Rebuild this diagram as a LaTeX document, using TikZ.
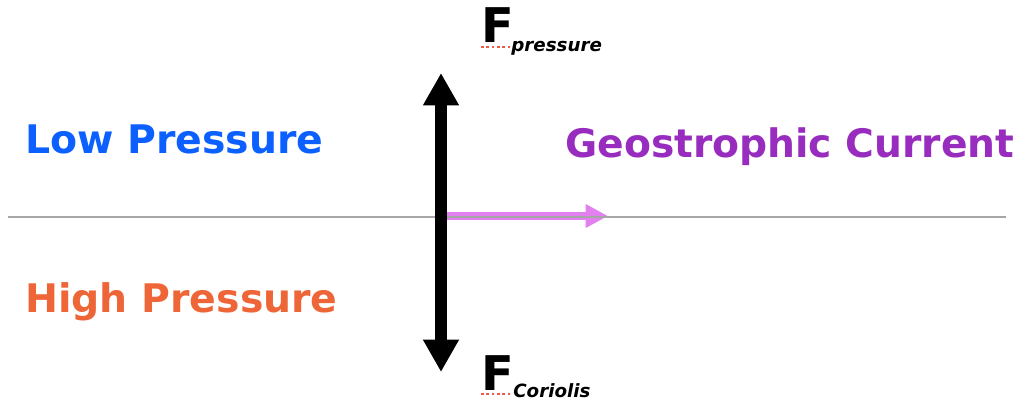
\documentclass[tikz,border=0pt]{standalone}
\usepackage{fontspec}
\setmainfont{DejaVu Sans}
\usetikzlibrary{arrows.meta, positioning}

\definecolor{lowblue}{RGB}{12,96,255}
\definecolor{highorange}{RGB}{238,102,56}
\definecolor{geopurple}{RGB}{152,44,190}
\definecolor{flowpink}{RGB}{226,128,240}
\definecolor{squigred}{RGB}{240,90,70}

\begin{document}
\begin{tikzpicture}[
    x=0.025cm, y=-0.025cm,
    region/.style={anchor=base west, inner sep=0pt, font=\fontsize{28}{30}\selectfont\bfseries},
    force/.style={anchor=base west, inner sep=0pt, font=\fontsize{34}{36}\selectfont\bfseries},
    sub/.style={anchor=base west, inner sep=0pt, font=\fontsize{13}{15}\selectfont\bfseries\itshape},
    squiggle/.style={squigred, line width=1.6pt, dash pattern=on 1.8pt off 2pt},
    force arrow/.style={line width=8.2pt, {Triangle[length=23pt,width=24pt]}-{Triangle[length=23pt,width=24pt]}},
    flow arrow/.style={flowpink, line width=5.2pt, -{Triangle[length=16pt,width=16pt]}}
]
\useasboundingbox (0,0) rectangle (1023,404);

% Beschriftung der Seiten
\node[region, lowblue] (low) at (25,153) {Low Pressure};
\node[region, highorange] (high) at (25,312) {High Pressure};
\node[region, geopurple, font=\fontsize{27.9}{30}\selectfont\bfseries] (geo) at (565,157) {Geostrophic Current};

% Punkte
\coordinate (west) at (8,217);
\coordinate (east) at (1006,217);
\coordinate (ptop) at (441,73);
\coordinate (pbot) at (441,372);
\coordinate (origin) at (447,216);
\coordinate (ctip) at (608,216);

% Strömung und Linie
\draw[flow arrow] (origin) -- (ctip);
\draw[gray!70, line width=1.4pt] (west) -- (east);

% Kräfte
\draw[force arrow] (ptop) -- (pbot);

\node[force] (fp) at (481,42) {F};
\node[sub] (fpsub) at (511,51) {pressure};
\draw[squiggle] (fp.base west) ++(0,5) coordinate (sq1) -- (fpsub.base west |- sq1);

\node[force] (fc) at (481,390) {F};
\node[sub] (fcsub) at (513,397) {Coriolis};
\draw[squiggle] (fc.base west) ++(0,4) coordinate (sq2) -- (fcsub.base west |- sq2);
\end{tikzpicture}
\end{document}
